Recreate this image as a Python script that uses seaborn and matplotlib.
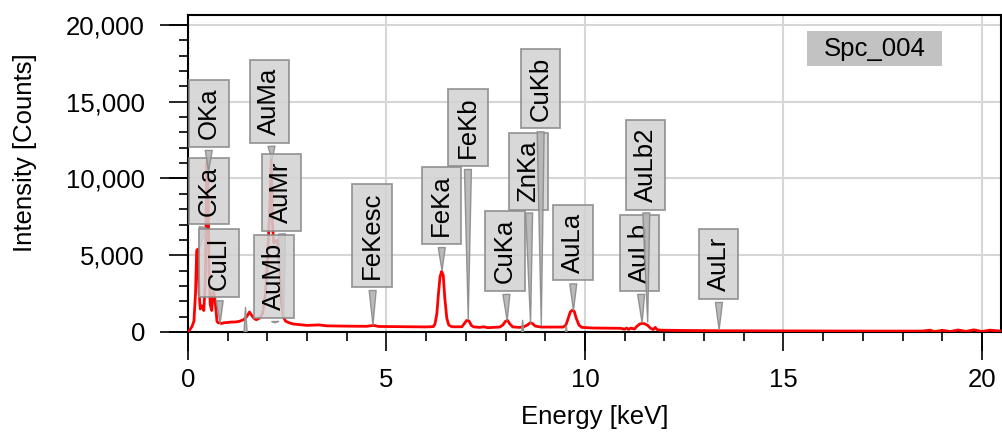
import matplotlib
matplotlib.use('Agg')
import matplotlib.pyplot as plt
import seaborn as sns
from matplotlib.patches import Rectangle
from matplotlib.ticker import StrMethodFormatter, MultipleLocator, NullLocator

# spectrum (keV, counts)
energy = [0.00, 0.05, 0.10, 0.15, 0.19, 0.22, 0.25, 0.28, 0.31, 0.35, 0.40, 0.44, 0.47, 0.50,
          0.53, 0.56, 0.60, 0.63, 0.66, 0.70, 0.73, 0.76, 0.80, 0.85, 0.90, 1.00, 1.10, 1.20,
          1.30, 1.40, 1.48, 1.55, 1.60, 1.66, 1.72, 1.80, 1.88, 1.95, 2.00, 2.05, 2.10, 2.13,
          2.16, 2.20, 2.25, 2.30, 2.35, 2.40, 2.46, 2.55, 2.65, 2.80, 3.00, 3.30, 3.50, 4.00,
          4.50, 4.64, 4.68, 4.80, 5.50, 6.00, 6.18, 6.22, 6.27, 6.31, 6.35, 6.39, 6.43, 6.47,
          6.52, 6.57, 6.65, 6.90, 6.96, 7.02, 7.08, 7.14, 7.20, 7.35, 7.45, 7.55, 7.70, 7.85,
          7.93, 8.00, 8.05, 8.10, 8.18, 8.35, 8.45, 8.55, 8.62, 8.68, 8.75, 8.90, 9.20, 9.45,
          9.52, 9.58, 9.63, 9.68, 9.73, 9.78, 9.85, 9.92, 10.20, 10.50, 10.90, 11.00, 11.05,
          11.10, 11.15, 11.25, 11.30, 11.38, 11.44, 11.50, 11.58, 11.65, 11.72, 11.77, 11.82,
          11.90, 12.50, 13.50, 15.00, 17.00, 18.50, 18.70, 18.80, 19.00, 19.20, 19.40, 19.60,
          19.80, 20.00, 20.20, 20.48]
counts = [0, 150, 350, 700, 2500, 5300, 5400, 2600, 1500, 1700, 1400, 3500, 11000, 11300,
          4000, 1800, 1400, 2600, 2500, 1600, 700, 600, 600, 550, 600, 620, 650, 650,
          700, 800, 1000, 1300, 1100, 900, 800, 900, 1200, 2500, 4500, 7500, 11300, 7000,
          5800, 5900, 6000, 4500, 2000, 1000, 700, 600, 520, 480, 430, 460, 400, 380,
          370, 420, 430, 360, 340, 330, 350, 500, 1200, 2500, 3600, 3950, 3700, 2200,
          900, 450, 340, 340, 550, 750, 720, 420, 330, 300, 340, 280, 300, 320,
          450, 700, 760, 550, 330, 300, 330, 450, 600, 550, 380, 320, 320, 320,
          450, 900, 1300, 1420, 1350, 900, 450, 300, 260, 250, 240, 180, 260,
          170, 250, 200, 350, 520, 560, 540, 430, 250, 160, 300, 150,
          120, 100, 80, 70, 60, 60, 120, 20, 110, 30, 130, 40,
          140, 30, 120, 60]

# peak labels
line_names = ['CKa', 'OKa', 'CuLl', 'AuMa', 'AuMr', 'AuMb', 'FeKesc', 'FeKa', 'FeKb',
              'ZnKa', 'CuKa', 'CuKb', 'AuLa', 'AuLb', 'AuLb2', 'AuLr']
line_energy = [0.28, 0.52, 0.81, 2.12, 2.41, 2.20, 4.66, 6.40, 7.06,
               8.63, 8.04, 8.90, 9.71, 11.44, 11.58, 13.38]
line_tip = [5400, 10500, 570, 11200, 950, 600, 450, 4000, 850,
            550, 750, 420, 1400, 600, 650, 150]
# where the label boxes sit (layout)
box_x = [0.53, 0.53, 0.78, 2.05, 2.35, 2.17, 4.64, 6.38, 7.05,
         8.58, 7.99, 8.88, 9.70, 11.38, 11.53, 13.37]
box_y = [9175, 14229, 4480, 15011, 9110, 3600, 6273, 8230, 13316,
         10479, 5262, 15859, 5817, 5132, 10903, 4415]

# labels sitting below the axis, only their pointers show
hidden_energy = [1.45, 8.43, 9.53]
hidden_tip = [1600, 760, 430]

sns.set_theme(style='white')
plt.rcParams['font.family'] = ['Liberation Sans', 'DejaVu Sans']
plt.rcParams['text.color'] = 'black'
plt.rcParams['axes.labelcolor'] = 'black'
plt.rcParams['xtick.color'] = 'black'
plt.rcParams['ytick.color'] = 'black'
fs = 18.5

fig = plt.figure(figsize=(10.03, 4.37), dpi=100)
ax = fig.add_axes([0.1874, 0.2403, 0.8106, 0.7254])

sns.lineplot(x=energy, y=counts, color='red', lw=2.0, ax=ax,
             estimator=None, sort=False, zorder=3)

ax.set_xlim(0, 20.48)
ax.set_ylim(0, 20650)
ax.xaxis.set_major_locator(MultipleLocator(5))
ax.xaxis.set_minor_locator(MultipleLocator(1))
ax.yaxis.set_major_locator(MultipleLocator(5000))
ax.yaxis.set_minor_locator(MultipleLocator(1000))
ax.yaxis.set_major_formatter(StrMethodFormatter('{x:,.0f}'))
ax.grid(True, which='major', color='#d6d6d6', lw=1.5, zorder=0)
ax.set_axisbelow(True)

ax.tick_params(which='major', direction='out', length=14, width=1.2,
               labelsize=fs, colors='black', bottom=True, left=True)
ax.tick_params(axis='y', which='major', pad=17)
ax.tick_params(axis='x', which='major', pad=12)
ax.tick_params(which='minor', direction='out', length=6.5, width=1.2,
               colors='black', bottom=True, left=True)
for s in ax.spines.values():
    s.set_color('black')
    s.set_linewidth(1.5)

# longer ticks at 0, 10, 20
secx = ax.secondary_xaxis('bottom')
secx.set_xticks([0, 10, 20])
secx.xaxis.set_minor_locator(NullLocator())
secx.tick_params(length=20.5, width=1.2, labelbottom=False, color='black')
secx.spines['bottom'].set_visible(False)
secy = ax.secondary_yaxis('left')
secy.set_yticks([0, 10000, 20000])
secy.yaxis.set_minor_locator(NullLocator())
secy.tick_params(length=20.5, width=1.2, labelleft=False, color='black')
secy.spines['left'].set_visible(False)

ax.set_xlabel('Energy [keV]', fontsize=fs, color='black')
ax.set_ylabel('Intensity [Counts]', fontsize=fs, color='black')
ax.xaxis.set_label_coords(0.50, -0.268)
ax.xaxis.label.set_va('center')
ax.yaxis.set_label_coords(-0.2005, 0.565)
ax.yaxis.label.set_va('center')

for name, e, tip, bx, by in zip(line_names, line_energy, line_tip, box_x, box_y):
    ax.annotate(name, xy=(e, tip), xytext=(bx, by), rotation=90, color='black',
                ha='center', va='center', fontsize=fs, zorder=5,
                bbox=dict(boxstyle='square,pad=0.3', fc='#d2d2d2', ec='#8a8a8a',
                          lw=1.3, alpha=0.85),
                arrowprops=dict(arrowstyle='wedge,tail_width=0.27', fc='#b4b4b4',
                                ec='#8a8a8a', lw=1.0, alpha=0.9, shrinkB=0))

for e, tip in zip(hidden_energy, hidden_tip):
    ann = ax.annotate('', xy=(e, tip), xytext=(e, -1400),
                      arrowprops=dict(arrowstyle='wedge,tail_width=0.35', fc='#b4b4b4',
                                      ec='#8a8a8a', lw=1.0, alpha=0.9, shrinkA=0, shrinkB=0),
                      annotation_clip=False, zorder=4)
    ann.arrow_patch.set_clip_on(True)
    ann.arrow_patch.set_clip_box(ax.bbox)

ax.add_patch(Rectangle((0.7614, 0.839), 135 / 813, 35 / 317, transform=ax.transAxes,
                       fc='#c2c2c2', ec='none', zorder=6))
ax.text(0.8444, 0.894, 'Spc_004', transform=ax.transAxes, ha='center', va='center',
        fontsize=fs, color='black', zorder=7)

fig.savefig('out.png', dpi=100)
